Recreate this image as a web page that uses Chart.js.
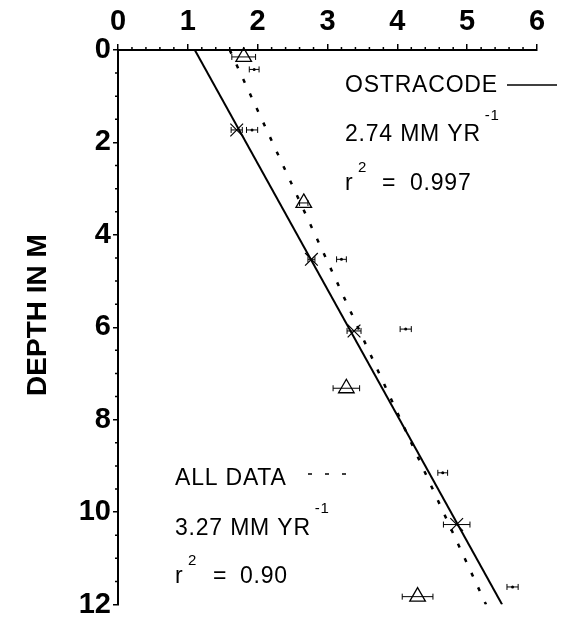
<!DOCTYPE html>
<html>
<head>
<meta charset="utf-8">
<script src="https://cdn.jsdelivr.net/npm/chart.js@4/dist/chart.umd.min.js"></script>
<style>
  html, body { margin: 0; padding: 0; background: #fff; }
  canvas { display: block; }
</style>
</head>
<body>
<canvas id="chart" width="564" height="621"></canvas>
<script>
// axis ticks
const xTicks = [0, 1, 2, 3, 4, 5, 6];
const yTicks = [0, 2, 4, 6, 8, 10, 12];
const xMinorStep = 0.2;
const yMinorStep = 0.5;

// ostracode samples (X markers)
const ostAge   = [1.70, 2.77, 3.38, 4.85];
const ostDepth = [1.73, 4.53, 6.08, 10.27];
const ostErr   = [0.08, 0.05, 0.10, 0.19];

// triangle samples
const triAge   = [1.80, 2.66, 3.27, 4.29];
const triDepth = [0.15, 3.31, 7.32, 11.83];
const triErr   = [0.17, 0.06, 0.19, 0.22];

// samples shown with error bar only
const barAge   = [1.95, 1.92, 3.20, 4.12, 4.65, 5.65];
const barDepth = [0.42, 1.73, 4.53, 6.04, 9.15, 11.62];
const barErr   = [0.07, 0.08, 0.07, 0.08, 0.07, 0.08];

// regression lines (end points)
const fitDepth  = [0, 12];
const ostFitAge = [1.10, 5.50];
const allFitAge = [1.60, 5.27];

const FONT = '"Liberation Sans", Arial, sans-serif';

function pts(xs, ys) {
    return xs.map((x, i) => ({ x: x, y: ys[i] }));
}

// horizontal error bars, drawn through the chart scales
const errorBars = {
    id: 'errorBars',
    afterDatasetsDraw(chart) {
        const ctx = chart.ctx, xs = chart.scales.x, ys = chart.scales.y;
        ctx.save();
        ctx.strokeStyle = '#000';
        ctx.lineWidth = 1;
        chart.data.datasets.forEach(ds => {
            if (!ds.errors) return;
            ds.data.forEach((p, i) => {
                const e = ds.errors[i];
                const x0 = xs.getPixelForValue(p.x - e);
                const x1 = xs.getPixelForValue(p.x + e);
                const y = ys.getPixelForValue(p.y);
                ctx.beginPath();
                ctx.moveTo(x0, y); ctx.lineTo(x1, y);
                ctx.moveTo(x0, y - 3); ctx.lineTo(x0, y + 3);
                ctx.moveTo(x1, y - 3); ctx.lineTo(x1, y + 3);
                ctx.stroke();
            });
        });
        ctx.restore();
    }
};

// minor ticks, axis title and the text annotations
const decor = {
    id: 'decor',
    afterDraw(chart) {
        const ctx = chart.ctx, xs = chart.scales.x, ys = chart.scales.y;
        const area = chart.chartArea;
        ctx.save();
        ctx.strokeStyle = '#000';
        ctx.lineWidth = 1.5;
        ctx.beginPath();
        for (let v = xMinorStep; v < xs.max; v += xMinorStep) {
            if (Math.abs(v - Math.round(v)) < 1e-6) continue;
            const px = xs.getPixelForValue(v);
            ctx.moveTo(px, area.top); ctx.lineTo(px, area.top - 3);
        }
        for (let v = yMinorStep; v < ys.max; v += yMinorStep) {
            if (Math.abs(v / 2 - Math.round(v / 2)) < 1e-6) continue;
            const py = ys.getPixelForValue(v);
            ctx.moveTo(area.left, py); ctx.lineTo(area.left - 3, py);
        }
        ctx.stroke();

        // y axis title
        ctx.fillStyle = '#000';
        ctx.save();
        ctx.translate(38, 315);
        ctx.rotate(-Math.PI / 2);
        ctx.font = 'bold 28px ' + FONT;
        ctx.textAlign = 'center';
        ctx.textBaseline = 'middle';
        ctx.fillText('DEPTH IN M', 0, 0);
        ctx.restore();

        ctx.textAlign = 'left';
        ctx.textBaseline = 'alphabetic';
        ctx.letterSpacing = '0.8px';
        const big = '23px ' + FONT, small = '15px ' + FONT;

        // ostracode block
        ctx.font = big;
        ctx.fillText('OSTRACODE', 345, 92);
        let w = ctx.measureText('2.74 MM YR').width;
        ctx.fillText('2.74 MM YR', 345, 141);
        ctx.fillText('r', 345, 190);
        ctx.fillText('=', 382, 190);
        ctx.fillText('0.997', 410, 190);
        ctx.font = small;
        ctx.fillText('-1', 345 + w + 4, 120);
        ctx.fillText('2', 358, 172);

        // all data block
        ctx.font = big;
        ctx.fillText('ALL DATA', 175, 485);
        w = ctx.measureText('3.27 MM YR').width;
        ctx.fillText('3.27 MM YR', 175, 535);
        ctx.fillText('r', 175, 583);
        ctx.fillText('=', 213, 583);
        ctx.fillText('0.90', 240, 583);
        ctx.font = small;
        ctx.fillText('-1', 175 + w + 4, 513);
        ctx.fillText('2', 188, 565);

        // legend samples
        ctx.lineWidth = 1.5;
        ctx.beginPath();
        ctx.moveTo(507, 85); ctx.lineTo(557, 85);
        ctx.stroke();
        ctx.setLineDash([4, 13]);
        ctx.beginPath();
        ctx.moveTo(308, 474); ctx.lineTo(348, 474);
        ctx.stroke();
        ctx.restore();
    }
};

const tickFont = { family: FONT, size: 29, weight: 'bold', lineHeight: 1 };

new Chart(document.getElementById('chart'), {
    type: 'scatter',
    data: {
        datasets: [
            {
                label: 'OSTRACODE fit',
                type: 'line',
                data: pts(ostFitAge, fitDepth),
                borderColor: '#000',
                borderWidth: 2,
                pointRadius: 0,
                fill: false
            },
            {
                label: 'ALL DATA fit',
                type: 'line',
                data: pts(allFitAge, fitDepth),
                borderColor: '#000',
                borderWidth: 2.5,
                borderDash: [4, 12],
                pointRadius: 0,
                fill: false
            },
            {
                label: 'Ostracode',
                data: pts(ostAge, ostDepth),
                errors: ostErr,
                pointStyle: 'crossRot',
                pointRadius: 9,
                borderColor: '#000',
                borderWidth: 1.2,
                clip: false
            },
            {
                label: 'Triangles',
                data: pts(triAge, triDepth),
                errors: triErr,
                pointStyle: 'triangle',
                pointRadius: 9,
                borderColor: '#000',
                backgroundColor: 'rgba(0,0,0,0)',
                borderWidth: 1.3,
                clip: false
            },
            {
                label: 'Others',
                data: pts(barAge, barDepth),
                errors: barErr,
                pointStyle: 'circle',
                pointRadius: 1.5,
                borderColor: '#000',
                backgroundColor: '#000',
                borderWidth: 0,
                clip: false
            }
        ]
    },
    options: {
        responsive: false,
        animation: false,
        devicePixelRatio: 1,
        layout: { padding: { top: 0, left: 0, right: 27, bottom: 15 } },
        plugins: {
            legend: { display: false },
            tooltip: { enabled: false }
        },
        scales: {
            x: {
                type: 'linear',
                position: 'top',
                min: 0,
                max: 6,
                afterBuildTicks: s => { s.ticks = xTicks.map(v => ({ value: v })); },
                afterFit: s => { s.height = 50; },
                grid: { drawOnChartArea: false, drawTicks: true, tickLength: 6, color: '#000', lineWidth: 1.5 },
                border: { display: true, color: '#000', width: 2 },
                ticks: { color: '#000', font: tickFont, padding: 8, maxRotation: 0 }
            },
            y: {
                type: 'linear',
                reverse: true,
                min: 0,
                max: 12,
                afterBuildTicks: s => { s.ticks = yTicks.map(v => ({ value: v })); },
                afterFit: s => { s.width = 118; },
                grid: { drawOnChartArea: false, drawTicks: true, tickLength: 5, color: '#000', lineWidth: 1.5 },
                border: { display: true, color: '#000', width: 2 },
                ticks: { color: '#000', font: tickFont, padding: 2 },
                title: { display: false }
            }
        }
    },
    plugins: [errorBars, decor]
});
</script>
</body>
</html>
